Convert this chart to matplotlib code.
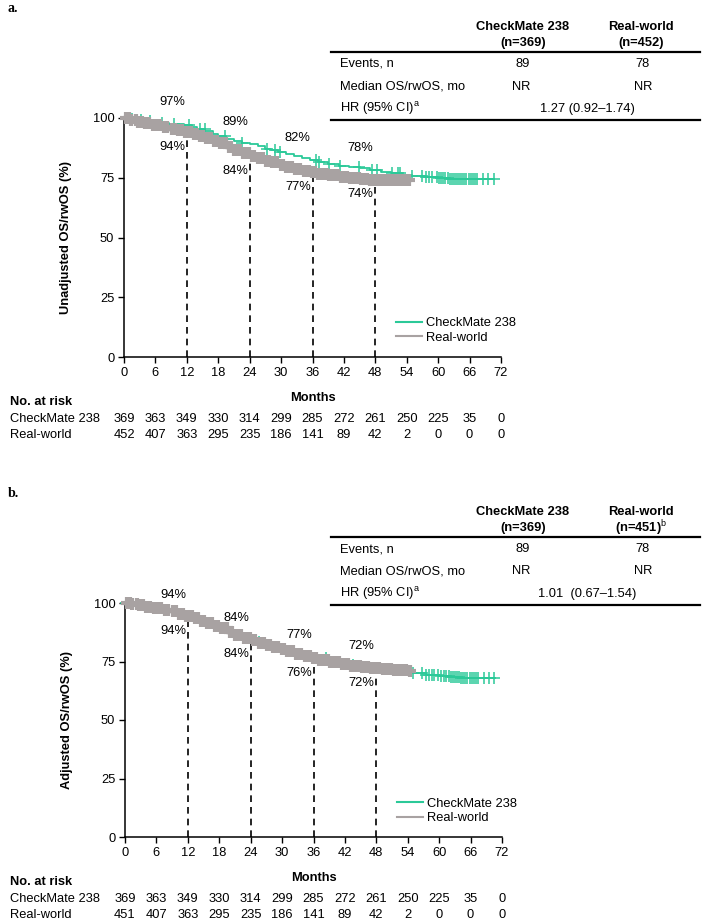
import numpy as np
import matplotlib
matplotlib.use("Agg")
import matplotlib.pyplot as plt
from matplotlib.lines import Line2D
from matplotlib.transforms import blended_transform_factory

plt.rcParams["font.family"] = ["Liberation Sans", "DejaVu Sans"]
plt.rcParams["mathtext.fontset"] = "custom"
plt.rcParams["mathtext.rm"] = "Liberation Sans"
plt.rcParams["mathtext.bf"] = "Liberation Sans:bold"

GREEN = "#2BC998"
GREY = "#A8A2A2"
W, H = 702, 923
FS = 9.3

months = [0, 6, 12, 18, 24, 30, 36, 42, 48, 54, 60, 66, 72]
landmarks = [12, 24, 36, 48]

# ---- panel a: unadjusted ----
cm_a_t = [0, 1, 2.5, 4, 5.5, 7, 8.5, 10, 11.5, 13, 14, 15.5, 17, 18, 19.5, 21, 22.5, 24,
          25.5, 27, 28, 29.5, 31, 32.5, 34, 35.5, 37, 39, 41, 43, 45, 47, 49, 51, 53, 55,
          57.5, 60, 62, 64, 66, 68, 70.6]
cm_a_s = [100, 99.7, 99.2, 98.8, 98.3, 97.9, 97.5, 97.3, 97.0, 96.2, 95.5, 94.6, 93.3, 92.5,
          91.4, 90.5, 89.6, 89.0, 88.3, 87.2, 86.5, 85.8, 84.9, 84.0, 83.2, 82.3, 81.5, 80.6,
          79.9, 79.4, 78.9, 78.3, 77.6, 76.9, 76.2, 75.6, 75.2, 74.8, 74.6, 74.5, 74.5, 74.5, 74.5]
rw_a_t = [0, 1, 2.5, 4, 5.5, 7, 8.5, 10, 11.5, 13, 14, 15.5, 17, 18, 19.5, 21, 22.5, 24,
          25.5, 27, 28, 29.5, 31, 32.5, 34, 35.5, 37, 39, 41, 43, 45, 47, 49, 51, 54.5]
rw_a_s = [100, 99.3, 98.5, 97.8, 97.0, 96.3, 95.6, 94.9, 94.2, 93.4, 92.6, 91.5, 90.3, 89.4,
          88.0, 86.8, 85.4, 84.2, 83.3, 82.2, 81.5, 80.5, 79.6, 78.8, 78.0, 77.3, 76.7, 76.0,
          75.4, 74.9, 74.5, 74.2, 74.0, 74.0, 74.0]
cm_a_cens = [0.4, 1.5, 3.2, 5.0, 7.3, 9.6, 12.5, 14.6, 15.4, 19.2, 22.6, 27.3, 28.9, 29.8,
             36.6, 37.2, 39.1, 41.2, 44.8, 47.3, 48.3, 51.2, 52.3, 52.8, 55.0, 56.9, 57.6,
             58.3, 58.8, 59.7, 60.2, 60.6, 61.0, 61.4, 61.8, 62.2, 62.6, 63.0, 63.4, 63.8,
             64.2, 64.6, 65.0, 65.4, 65.8, 66.2, 66.6, 67.0, 67.5, 68.5, 69.5, 70.6]
rw_a_cens = [0.3, 0.9, 1.4, 2.2, 2.7, 3.5, 4.1, 4.8, 5.6, 6.2, 6.9, 7.7, 8.3, 9.1, 9.8,
             10.4, 11.0, 11.7, 12.3, 12.8, 13.4, 13.9, 14.5, 15.0, 15.6, 16.1, 16.7, 17.2,
             17.8, 18.3, 18.9, 19.4, 20.0, 20.5, 21.1, 21.6, 22.2, 22.7, 23.3, 23.8, 24.4,
             24.9, 25.5, 26.0, 26.6, 27.1, 27.7, 28.2, 28.8, 29.3, 29.9, 30.4, 31.0, 31.5,
             32.1, 32.6, 33.2, 33.7, 34.3, 34.8, 35.4, 35.9, 36.5, 37.0, 37.6, 38.1, 38.7,
             39.2, 39.8, 40.3, 40.9, 41.4, 42.0, 42.6, 43.1, 43.7, 44.2, 44.8, 45.3, 45.9,
             46.4, 47.0, 47.5, 48.1, 48.6, 49.2, 49.7, 50.3, 50.8, 51.4, 51.9, 52.5, 53.1,
             53.6, 54.5]
a_top = [97, 89, 82, 78]
a_bottom = [94, 84, 77, 74]
a_risk_cm = [369, 363, 349, 330, 314, 299, 285, 272, 261, 250, 225, 35, 0]
a_risk_rw = [452, 407, 363, 295, 235, 186, 141, 89, 42, 2, 0, 0, 0]

# ---- panel b: adjusted ----
cm_b_t = cm_a_t
cm_b_s = [100, 99.6, 99.1, 98.6, 98.0, 97.4, 96.6, 95.8, 94.6, 93.6, 92.8, 91.7, 90.3, 89.5,
          88.0, 86.6, 85.2, 84.2, 83.2, 82.1, 81.4, 80.4, 79.4, 78.5, 77.8, 77.2, 76.3, 75.3,
          74.3, 73.5, 72.8, 72.3, 71.8, 71.2, 70.5, 70.0, 69.4, 68.8, 68.3, 68.0, 68.0, 68.0, 68.0]
rw_b_t = rw_a_t
rw_b_s = [100, 99.5, 99.0, 98.5, 98.0, 97.2, 96.4, 95.5, 94.3, 93.4, 92.5, 91.4, 90.0, 89.2,
          87.8, 86.5, 85.2, 84.0, 83.0, 82.0, 81.3, 80.3, 79.3, 78.3, 77.5, 76.6, 75.8, 74.8,
          74.0, 73.2, 72.6, 72.2, 71.7, 71.2, 70.8]
cm_b_cens = [0.1, 9.5, 22.8, 25.6, 38.4, 43.5, 52.5, 55.0, 56.8, 57.5, 58.0, 58.6, 59.1,
             59.7, 60.3, 60.9, 61.4, 61.8, 62.2, 62.6, 63.0, 63.4, 63.8, 64.2, 64.6, 65.0,
             65.4, 65.8, 66.2, 66.6, 67.0, 67.5, 68.5, 69.6, 70.5]
rw_b_cens = rw_a_cens
b_top = [94, 84, 77, 72]
b_bottom = [94, 84, 76, 72]
b_risk_cm = [369, 363, 349, 330, 314, 299, 285, 272, 261, 250, 225, 35, 0]
b_risk_rw = [451, 407, 363, 295, 235, 186, 141, 89, 42, 2, 0, 0, 0]


def fy(py):
    return 1 - py / H


def step_at(t, s, x):
    idx = np.searchsorted(t, x, side="right") - 1
    return np.asarray(s)[idx]


def draw_panel(left, top, bottom, ylabel, cm_t, cm_s, rw_t, rw_s, cm_c, rw_c,
               top_lbl, bot_lbl, risk_cm, risk_rw):
    ax = fig.add_axes([left / W, fy(bottom), 377 / W, (bottom - top) / H])
    # green first, grey drawn over it
    ax.step(cm_t, cm_s, where="post", color=GREEN, lw=1.3, clip_on=False, zorder=3)
    ax.plot(cm_c, step_at(cm_t, cm_s, cm_c), "+", color=GREEN, ms=8, mew=1.1,
            clip_on=False, zorder=3)
    ax.step(rw_t, rw_s, where="post", color=GREY, lw=2.5, clip_on=False, zorder=4)
    ax.plot(rw_c, step_at(rw_t, rw_s, rw_c), "+", color=GREY, ms=8, mew=3,
            clip_on=False, zorder=4)

    low = step_at(rw_t, rw_s, landmarks)
    ax.vlines(landmarks, 0, low, colors="black", linestyles=(0, (4, 3)), lw=1.2, zorder=2)
    for m, tv, bv in zip(landmarks, top_lbl, bot_lbl):
        ax.text(m - 2.8, tv + 9.5, f"{tv}%", ha="center", va="center", fontsize=FS)
        ax.text(m - 2.8, bv - 6, f"{bv}%", ha="center", va="center", fontsize=FS)

    ax.set_xlim(0, 72)
    ax.set_ylim(0, 100)
    ax.set_xticks(months)
    ax.set_yticks([0, 25, 50, 75, 100])
    ax.tick_params(labelsize=FS, length=4, width=1, pad=3)
    for sp in ["top", "right"]:
        ax.spines[sp].set_visible(False)
    for sp in ["left", "bottom"]:
        ax.spines[sp].set_linewidth(1.1)
    ax.set_xlabel("Months", fontsize=FS, fontweight="bold")
    ax.xaxis.set_label_coords(0.5, -35 / (bottom - top))
    ax.set_ylabel(ylabel, fontsize=FS, fontweight="bold")
    ax.yaxis.set_label_coords(-52 / 377, 0.5)

    handles = [Line2D([], [], color=GREEN, lw=1.5), Line2D([], [], color=GREY, lw=1.5)]
    ax.legend(handles, ["CheckMate 238", "Real-world"], loc="lower left",
              bbox_to_anchor=(0.722, 0.055), frameon=False, fontsize=FS,
              handlelength=2.0, handletextpad=0.3, labelspacing=0.2,
              borderpad=0, borderaxespad=0)

    tr = blended_transform_factory(ax.transData, fig.transFigure)
    y0 = bottom + 45
    fig.text(10 / W, fy(y0), "No. at risk", fontsize=FS, fontweight="bold", va="center")
    fig.text(10 / W, fy(y0 + 17), "CheckMate 238", fontsize=FS, va="center")
    fig.text(10 / W, fy(y0 + 33), "Real-world", fontsize=FS, va="center")
    for m, a, b in zip(months, risk_cm, risk_rw):
        ax.text(m, fy(y0 + 17), str(a), transform=tr, ha="center", va="center", fontsize=FS)
        ax.text(m, fy(y0 + 33), str(b), transform=tr, ha="center", va="center", fontsize=FS)
    return ax


def draw_table(off, n_rw, hr):
    fig.text(8 / W, fy(9 + off), "a." if off == 0 else "b.", family="Liberation Serif",
             fontsize=10, fontweight="bold", va="center")
    fig.text(523 / W, fy(27 + off), "CheckMate 238", ha="center", va="center",
             fontsize=FS, fontweight="bold")
    fig.text(523 / W, fy(43 + off), "(n=369)", ha="center", va="center",
             fontsize=FS, fontweight="bold")
    fig.text(641 / W, fy(27 + off), "Real-world", ha="center", va="center",
             fontsize=FS, fontweight="bold")
    fig.text(641 / W, fy(43 + off), n_rw, ha="center", va="center",
             fontsize=FS, fontweight="bold")
    fig.add_artist(Line2D([331 / W, 700 / W], [fy(52 + off)] * 2, color="black", lw=1.6))
    fig.add_artist(Line2D([331 / W, 700 / W], [fy(120 + off)] * 2, color="black", lw=1.6))
    rows = ["Events, n", "Median OS/rwOS, mo", r"HR (95% CI)$^{\mathrm{a}}$"]
    for i, r in enumerate(rows):
        fig.text(340 / W, fy(64 + 22.5 * i + off), r, va="center", fontsize=FS)
    fig.text(523 / W, fy(64 + off), "89", ha="center", va="center", fontsize=FS)
    fig.text(643 / W, fy(64 + off), "78", ha="center", va="center", fontsize=FS)
    fig.text(521 / W, fy(86.5 + off), "NR", ha="center", va="center", fontsize=FS)
    fig.text(643 / W, fy(86.5 + off), "NR", ha="center", va="center", fontsize=FS)
    fig.text(587 / W, fy(109 + off), hr, ha="center", va="center", fontsize=FS)


fig = plt.figure(figsize=(W / 100, H / 100), dpi=100)

draw_table(0, "(n=452)", "1.27 (0.92\u20131.74)")
draw_panel(124, 118, 357, "Unadjusted OS/rwOS (%)", cm_a_t, cm_a_s, rw_a_t, rw_a_s,
           cm_a_cens, rw_a_cens, a_top, a_bottom, a_risk_cm, a_risk_rw)

draw_table(485, r"(n=451)$^{\mathrm{b}}$", "1.01  (0.67\u20131.54)")
draw_panel(125, 603, 837, "Adjusted OS/rwOS (%)", cm_b_t, cm_b_s, rw_b_t, rw_b_s,
           cm_b_cens, rw_b_cens, b_top, b_bottom, b_risk_cm, b_risk_rw)

fig.savefig("out.png", dpi=100)
plt.close(fig)
